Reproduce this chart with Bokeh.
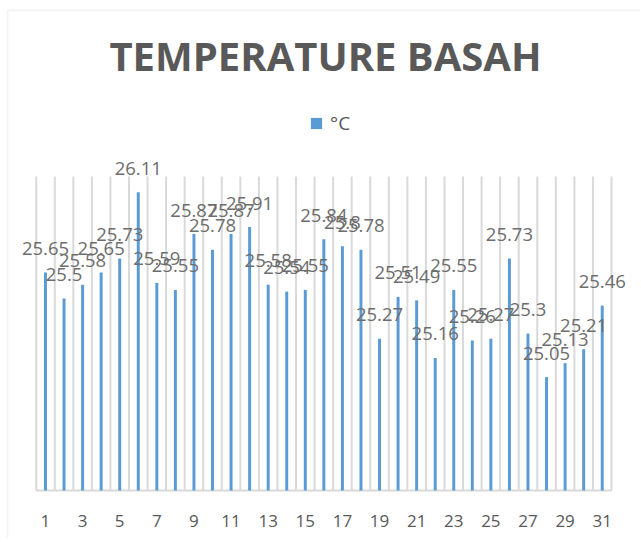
from bokeh.plotting import figure
from bokeh.models import ColumnDataSource, LabelSet, Label, Legend, LegendItem, BoxAnnotation
from bokeh.core.properties import value
from bokeh.embed import file_html
from bokeh.resources import INLINE

days = list(range(1, 32))
temps = [25.65, 25.5, 25.58, 25.65, 25.73, 26.11, 25.59, 25.55, 25.87, 25.78,
         25.87, 25.91, 25.58, 25.54, 25.55, 25.84, 25.8, 25.78, 25.27, 25.51,
         25.49, 25.16, 25.55, 25.26, 25.27, 25.73, 25.3, 25.05, 25.13, 25.21, 25.46]
tick_days = list(range(1, 32, 2))
title_text = "TEMPERATURE BASAH"
series_name = "°C"
y_min, y_max = 24.4, 26.2

GRAY = "#595959"
GRID = "#d9d9d9"
BLUE = "#5b9bd5"

# layout (pixels on the page)
W, H = 640, 538
plot_left_px, plot_right_px = 35.7, 611.0   # category area
base_px, top_px = 490.0, 176.0              # value axis area
n = len(days)
sx = (plot_right_px - plot_left_px) / n
sy = (base_px - top_px) / (y_max - y_min)
x0 = 0.5 - plot_left_px / sx
x1 = x0 + W / sx
y1 = y_min + base_px / sy
y0 = y_min - (H - base_px) / sy

p = figure(width=W, height=H, output_backend="svg", toolbar_location=None,
           x_range=(x0, x1), y_range=(y0, y1), x_axis_type=None, y_axis_type=None,
           min_border=0)
p.outline_line_color = None
p.background_fill_color = "white"
p.border_fill_color = "white"

# chart border (left and top edges visible)
p.add_layout(BoxAnnotation(left=x0 + 7 / sx, right=x1 + 5, top=y1 - 10 / sy, bottom=y0 - 5,
                           fill_alpha=0, line_color=GRID, line_width=2))

# vertical gridlines at category boundaries
bounds = [d - 0.5 for d in days] + [days[-1] + 0.5]
p.segment(x0=bounds, y0=[y_min] * len(bounds), x1=bounds, y1=[y_max] * len(bounds),
          line_color=GRID, line_width=2)
# category axis line
p.segment(x0=[bounds[0]], y0=[y_min], x1=[bounds[-1]], y1=[y_min], line_color=GRID, line_width=2)

src = ColumnDataSource(dict(x=days, top=temps, lab=[str(t) for t in temps]))
bars = p.vbar(x="x", top="top", bottom=y_min, width=0.16, source=src,
              fill_color=BLUE, line_color=None)

# category tick labels
tsrc = ColumnDataSource(dict(x=tick_days, y=[y_min] * len(tick_days), t=[str(d) for d in tick_days]))
p.text(x="x", y="y", text="t", source=tsrc, y_offset=30, text_align="center",
       text_baseline="middle", text_font=value("Open Sans"), text_font_size="17px",
       text_color=GRAY)

labels = LabelSet(x="x", y="top", text="lab", source=src, y_offset=24,
                  text_align="center", text_baseline="middle",
                  text_font=value("Open Sans"), text_font_size=value("18.5px"),
                  text_color=value("#6d6d6d"))
p.add_layout(labels)

title = Label(x=325, y=H - 55, x_units="screen", y_units="screen", text=title_text,
              text_align="center", text_baseline="middle", text_font="Open Sans",
              text_font_style="bold", text_font_size="40px", text_color=GRAY)
p.add_layout(title)

legend = Legend(items=[LegendItem(label=series_name, renderers=[bars])],
                location=(309, H - 136), orientation="horizontal",
                glyph_width=14, glyph_height=14, padding=0, margin=0,
                label_standoff=7, border_line_color=None, background_fill_alpha=0,
                label_text_font="Open Sans", label_text_font_size="19px",
                label_text_color=GRAY)
p.add_layout(legend, "center")

open("out.html", "w").write(file_html(p, INLINE))
